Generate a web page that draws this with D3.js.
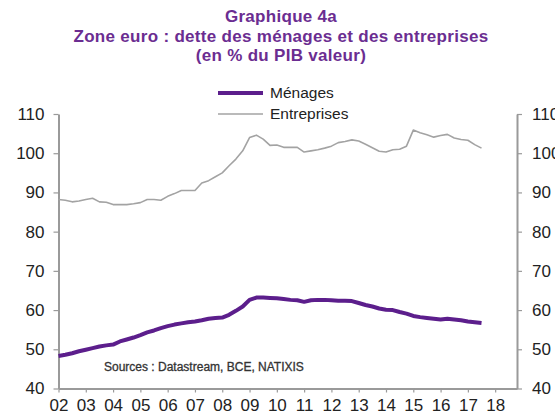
<!DOCTYPE html>
<html>
<head>
<meta charset="utf-8">
<script src="https://cdn.jsdelivr.net/npm/d3@7"></script>
<style>
  body { margin: 0; background: #fff; }
  svg { display: block; font-family: "Liberation Sans", Arial, sans-serif; }
</style>
</head>
<body>
<svg id="chart" width="555" height="419"></svg>
<script>
// quarterly readings, 2002Q1 -> 2017Q3
const startYear = 2002;
const menages = [
  48.3, 48.6, 49.0, 49.5, 49.9, 50.3, 50.7, 51.0,
  51.2, 52.0, 52.5, 53.0, 53.6, 54.3, 54.8, 55.4,
  55.9, 56.3, 56.6, 56.9, 57.1, 57.4, 57.8, 58.0,
  58.1, 58.8, 59.8, 60.9, 62.6, 63.2, 63.2, 63.1,
  63.0, 62.8, 62.6, 62.5, 62.1, 62.5, 62.6, 62.6,
  62.5, 62.4, 62.4, 62.3, 61.8, 61.3, 60.9, 60.4,
  60.1, 60.0, 59.5, 59.1, 58.5, 58.2, 58.0, 57.8,
  57.6, 57.8, 57.6, 57.4, 57.1, 56.9, 56.7
];
const entreprises = [
  88.2, 88.0, 87.6, 87.8, 88.2, 88.5, 87.6, 87.5,
  86.9, 86.9, 86.9, 87.1, 87.4, 88.2, 88.2, 88.0,
  89.0, 89.7, 90.5, 90.5, 90.5, 92.4, 93.0, 94.0,
  95.0, 96.8, 98.5, 100.6, 104.0, 104.6, 103.6, 102.0,
  102.1, 101.5, 101.5, 101.5, 100.3, 100.6, 100.9, 101.3,
  101.8, 102.7, 103.0, 103.4, 103.1, 102.3, 101.4, 100.5,
  100.3, 100.9, 101.0, 101.8, 105.9, 105.2, 104.7, 104.1,
  104.5, 104.8, 103.9, 103.5, 103.3, 102.2, 101.3
];
const yearTicks = d3.range(2002, 2019);
const valueTicks = [40, 50, 60, 70, 80, 90, 100, 110];
const titleLines = [
  "Graphique 4a",
  "Zone euro : dette des ménages et des entreprises",
  "(en % du PIB valeur)"
];
const legendLabels = ["Ménages", "Entreprises"];
const sourceText = "Sources : Datastream, BCE,  NATIXIS";

const purple = "#5c1e8c";
const grey = "#a3a3a3";
const axisGrey = "#9a9a9a";

const svg = d3.select("#chart");
const plotLeft = 58.5, plotRight = 517, plotTop = 114, plotBottom = 388.5;

const x = d3.scaleLinear().domain([2002, 2018.8]).range([plotLeft, plotRight]);
const y = d3.scaleLinear().domain([40, 110]).range([plotBottom, plotTop]);

// title
svg.append("g")
  .selectAll("text")
  .data(titleLines)
  .enter().append("text")
  .attr("x", 281)
  .attr("y", (d, i) => 22 + i * 19.5)
  .attr("text-anchor", "middle")
  .attr("font-size", "17px")
  .attr("letter-spacing", "0.3px")
  .attr("font-weight", "bold")
  .attr("fill", "#6b2d91")
  .text(d => d);

// axes
const axisLeft = d3.axisLeft(y).tickValues(valueTicks).tickSize(5).tickPadding(9);
const axisRight = d3.axisRight(y).tickValues(valueTicks).tickSize(5).tickPadding(10);
const axisBottom = d3.axisBottom(x).tickValues(yearTicks).tickSize(4).tickPadding(6)
  .tickFormat(d => String(d).slice(2));

function styleAxis(g, size) {
  g.select(".domain").attr("stroke", axisGrey).attr("stroke-width", 2);
  g.selectAll(".tick line").attr("stroke", axisGrey).attr("stroke-width", 1.2);
  g.selectAll(".tick text")
    .attr("fill", "#222")
    .attr("font-size", size)
    .attr("font-family", "'Liberation Sans', Arial, sans-serif");
}

svg.append("g")
  .attr("transform", `translate(${plotLeft},0)`)
  .call(axisLeft.tickSizeOuter(0))
  .call(g => styleAxis(g, "17px"));

svg.append("g")
  .attr("transform", `translate(${plotRight},0)`)
  .call(axisRight.tickSizeOuter(0))
  .call(g => styleAxis(g, "17px"));

svg.append("g")
  .attr("transform", `translate(0,${plotBottom})`)
  .call(axisBottom.tickSizeOuter(0))
  .call(g => styleAxis(g, "17px"));

// series
const line = d3.line()
  .x((d, i) => x(startYear + i / 4))
  .y(d => y(d));

svg.append("path")
  .datum(entreprises)
  .attr("fill", "none")
  .attr("stroke", grey)
  .attr("stroke-width", 1.6)
  .attr("stroke-linejoin", "round")
  .attr("d", line);

svg.append("path")
  .datum(menages)
  .attr("fill", "none")
  .attr("stroke", purple)
  .attr("stroke-width", 4)
  .attr("stroke-linejoin", "round")
  .attr("d", line);

// legend
const legend = svg.append("g")
  .selectAll("g")
  .data(legendLabels)
  .enter().append("g")
  .attr("transform", (d, i) => `translate(218,${93 + i * 21})`);

legend.append("line")
  .attr("x1", 0).attr("x2", 45)
  .attr("stroke", (d, i) => i === 0 ? purple : grey)
  .attr("stroke-width", (d, i) => i === 0 ? 4 : 1.6);

legend.append("text")
  .attr("x", 52)
  .attr("dy", "0.35em")
  .attr("font-size", "15.5px")
  .attr("fill", "#222")
  .text(d => d);

// source note
svg.append("text")
  .attr("x", 104)
  .attr("y", 371)
  .attr("font-size", "12px")
  .attr("fill", "#333")
  .attr("stroke", "#333")
  .attr("stroke-width", 0.3)
  .text(sourceText);
</script>
</body>
</html>
